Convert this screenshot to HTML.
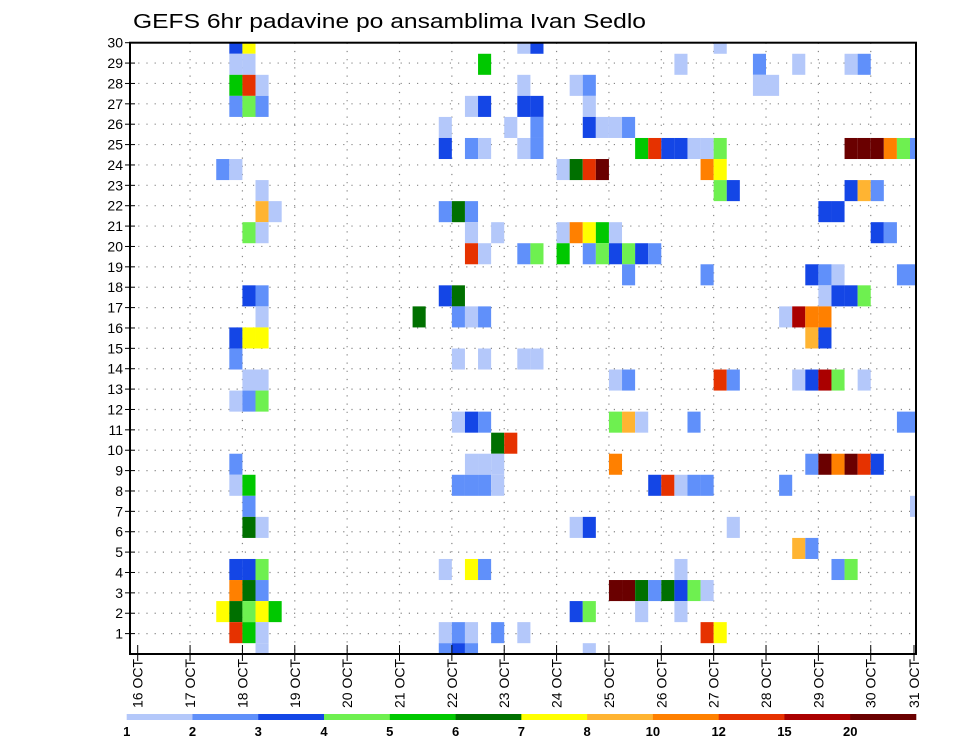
<!DOCTYPE html>
<html><head><meta charset="utf-8"><style>
html,body{margin:0;padding:0;background:#fff;}
svg{display:block;font-family:"Liberation Sans","DejaVu Sans",sans-serif;}
</style></head><body>
<svg id="chart" width="960" height="742" viewBox="0 0 960 742" xmlns="http://www.w3.org/2000/svg">
<defs><clipPath id="plotclip"><rect x="130" y="42.7" width="786" height="611.3"/></clipPath></defs>
<rect x="0" y="0" width="960" height="742" fill="#fff"/>
<text x="133" y="28" font-size="20" textLength="513" lengthAdjust="spacingAndGlyphs" fill="#000">GEFS 6hr padavine po ansamblima Ivan Sedlo</text>
<g id="grid"></g>
<g id="cells" clip-path="url(#plotclip)"></g>
<rect x="130" y="42.7" width="786" height="611.3" fill="none" stroke="#000" stroke-width="2"/>
<g id="yaxis"></g>
<g id="xaxis"></g>
<g id="colorbar"></g>
</svg>
<script>
// ---- data ----
const dayLabels = ["16 OCT","17 OCT","18 OCT","19 OCT","20 OCT","21 OCT","22 OCT","23 OCT","24 OCT","25 OCT","26 OCT","27 OCT","28 OCT","29 OCT","30 OCT","31 OCT"];
const memberLabels = [1,2,3,4,5,6,7,8,9,10,11,12,13,14,15,16,17,18,19,20,21,22,23,24,25,26,27,28,29,30];
const levelLabels = ["1","2","3","4","5","6","7","8","10","12","15","20"];
const levelColors = ["#b4c8fa","#6090fa","#1446e6","#6ef050","#00c800","#007000","#ffff00","#ffb432","#ff8000","#e63200","#aa0000","#6a0000"];
// cells: time step (6h index from 16 OCT 00Z), member row, colour class
const cellStep = [7,8, 7,8,26, 7,8,9, 7,8,9,25,26, 23, 23,25,26, 6,7, 9, 9,10,23,24,25, 8,9,25,27, 25,26, 8,9,23,24, 9,21,24,25,26, 7,8,9, 7,24,26, 8,9, 7,8,9, 24,25,26, 27, 7,25,26,27, 7,8,24,25,26,27, 8, 8,9, 7,8,9,23,25,26, 7,8,9, 6,7,8,9,10, 7,8,9,23,24,25,27, 9,23,24,25,
 29,30,44, 41, 29,33,34, 29,30,34, 28,30,34,35,36,37, 29,30,38,39,40,41,42,43,44, 32,33,34,35,43,44, 44,45, 32,33,34,35,36, 29,30,32,34,35,36,37,38,39, 37,43, 29,30, 36,37,44,45, 36,37,38,42, 28, 36, 39,40,41,42,43, 33,34,45, 41, 36,37,38,39,40,41,42,43, 33,34,38,41, 29,43,44, 34,
 47,50,54,55, 47,48, 54,55,56,57,58,59, 54,55,56, 52,53, 56,57, 51,52,53,58,59, 52,53,54,55, 49,50,51,52, 51,52, 50,51,52,53,55, 58,59, 51,52,53,54,55,56, 49, 59, 50,51, 53,54];
const cellMember = [30,30, 29,29,29, 28,28,28, 27,27,27,27,27, 26, 25,25,25, 24,24, 23, 22,22,22,22,22, 21,21,21,21, 20,20, 18,18,18,18, 17,17,17,17,17, 16,16,16, 15,15,15, 14,14, 13,13,13, 12,12,12, 11, 10,10,10,10, 9,9,9,9,9,9, 8, 7,7, 5,5,5,5,5,5, 4,4,4, 3,3,3,3,3, 2,2,2,2,2,2,2, 1,1,1,1,
 30,30,30, 29, 28,28,28, 27,27,27, 26,26,26,26,26,26, 25,25,25,25,25,25,25,25,25, 24,24,24,24,24,24, 23,23, 21,21,21,21,21, 20,20,20,20,20,20,20,20,20, 19,19, 15,15, 14,14,14,14, 12,12,12,12, 11, 10, 9,9,9,9,9, 7,7,7, 5, 4,4,4,4,4,4,4,4, 3,3,3,3, 2,2,2, 1,
 29,29,29,29, 28,28, 25,25,25,25,25,25, 23,23,23, 22,22, 21,21, 19,19,19,19,19, 18,18,18,18, 17,17,17,17, 16,16, 14,14,14,14,14, 12,12, 10,10,10,10,10,10, 9, 8, 6,6, 5,5];
const cellLevel = [2,6, 0,0,4, 4,9,0, 1,3,1,0,2, 0, 2,1,0, 1,0, 0, 7,0,1,5,1, 3,0,0,0, 9,0, 2,1,2,5, 0,5,1,0,1, 2,6,6, 1,0,0, 0,0, 0,1,3, 0,2,1, 5, 1,0,0,0, 0,4,1,1,1,0, 1, 5,0, 2,2,3,0,6,1, 8,5,1, 6,5,3,6,4, 9,4,0,0,1,0,1, 0,1,2,1,
 0,2,0, 0, 0,0,1, 2,2,0, 0,1,2,0,0,1, 0,1,4,9,2,2,0,0,3, 0,5,9,11,8,6, 3,2, 0,8,6,4,0, 1,3,4,1,3,2,3,2,1, 1,1, 0,0, 0,1,9,1, 3,7,0,1, 9, 8, 2,9,0,1,1, 0,2,0, 0, 11,11,5,1,5,2,3,0, 2,3,0,0, 0,9,6, 0,
 1,0,0,1, 0,0, 11,11,11,8,3,1, 2,7,1, 2,2, 2,1, 2,1,0,1,1, 0,2,2,3, 0,10,8,8, 7,2, 0,2,10,3,0, 1,1, 1,11,8,11,9,2, 1, 0, 7,1, 1,3];

// ---- layout / axis functions ----
const FX0=130, FX1=916, FY0=42.7, FY1=654;
const stepX0=137.7, stepW=13.09;
const xStep = s => stepX0 + s*stepW;
const xDay = d => stepX0 + d*4*stepW;
const rowH = 21.05;
const yMember = m => 43.25 + (30-m)*rowH;
const yLabel = k => FY0 + (30-k)*(FY1-20.39-FY0)/29;
const NS="http://www.w3.org/2000/svg";
function mk(tag, attrs, parent){const e=document.createElementNS(NS,tag);for(const k in attrs)e.setAttribute(k,attrs[k]);parent.appendChild(e);return e;}

const grid=document.getElementById('grid');
memberLabels.forEach(k=>{ if(k===30) return;
  const l=mk('line',{x1:FX0,x2:FX1,y1:yLabel(k),y2:yLabel(k),stroke:'#888','stroke-width':1.2,'stroke-dasharray':'1.2 7'},grid);
  
  
});
dayLabels.forEach((d,i)=>{ const x=xDay(i); if(i===0||x>=FX1) return;
  const l=mk('line',{x1:x,x2:x,y1:FY0,y2:FY1,stroke:'#888','stroke-width':1.2,'stroke-dasharray':'1.2 7'},grid);
  
  
});

const cells=document.getElementById('cells');
for(let i=0;i<cellStep.length;i++){
  const r=mk('rect',{x:xStep(cellStep[i]),y:yMember(cellMember[i])-rowH/2,width:stepW,height:rowH,fill:levelColors[cellLevel[i]]},cells);
  
  
}

const ya=document.getElementById('yaxis');
memberLabels.forEach(k=>{
  const y=yLabel(k);
  const t=mk('line',{x1:125,x2:135,y1:y,y2:y,stroke:'#000','stroke-width':1},ya);
  
  
  const tx=mk('text',{x:123,y:y+5,'font-size':14,'text-anchor':'end',fill:'#000'},ya);
  tx.textContent=k;
  
  
});

const xa=document.getElementById('xaxis');
dayLabels.forEach((d,i)=>{
  let x=xDay(i); if(x>FX1) x=FX1-2;
  const t=mk('line',{x1:x,x2:x,y1:645,y2:661,stroke:'#000','stroke-width':1},xa);
  
  
  const tx=mk('text',{x:0,y:0,'font-size':14,'text-anchor':'end',fill:'#000',transform:`translate(${x+5},659) rotate(-90)`},xa);
  tx.textContent=d;
  
  
});

const cb=document.getElementById('colorbar');
const cbX0=126.7, cbW=(916-126.7)/12;
levelColors.forEach((c,i)=>{
  const r=mk('rect',{x:cbX0+i*cbW,y:714,width:cbW+0.3,height:6,fill:c},cb);
  
  
});
levelLabels.forEach((l,i)=>{
  const t=mk('text',{x:cbX0+i*cbW,y:736,'font-size':13,'font-weight':'bold','text-anchor':'middle',fill:'#000'},cb);
  t.textContent=l;
  
  
});
</script>
</body></html>
